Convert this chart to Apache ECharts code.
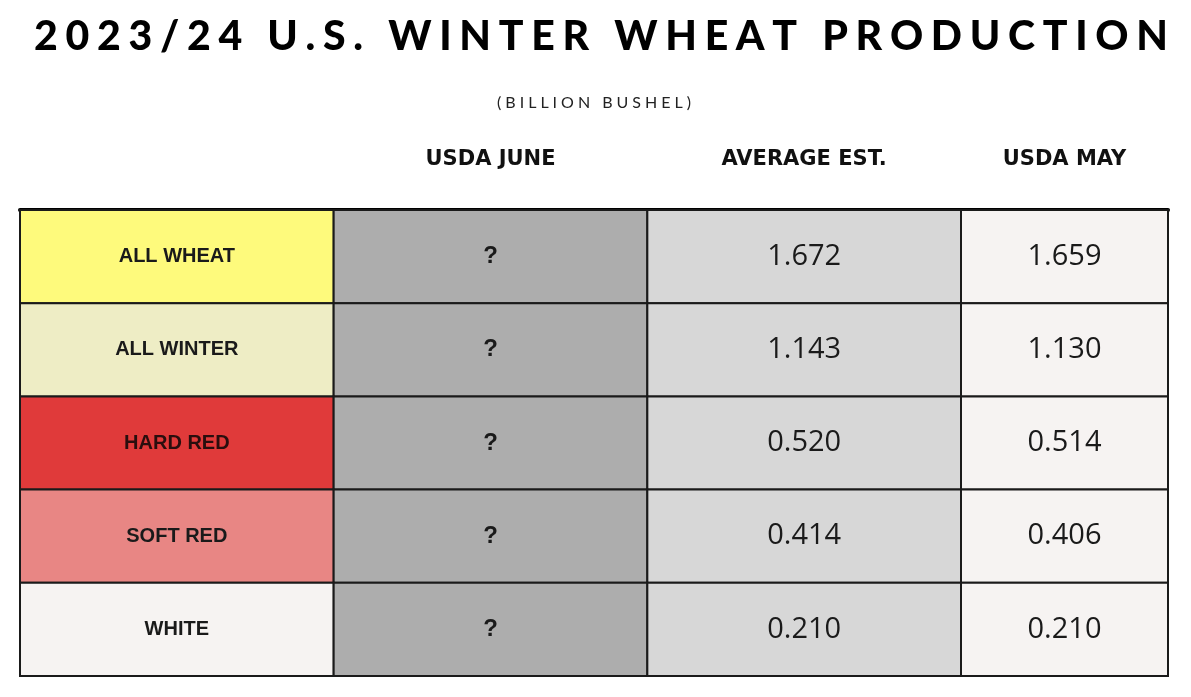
<!DOCTYPE html>
<html>
<head>
<meta charset="utf-8">
<script src="https://cdn.jsdelivr.net/npm/echarts@6/dist/echarts.min.js"></script>
<style>
  html, body { margin: 0; padding: 0; background: #ffffff; }
  #main { width: 1191px; height: 697px; }
</style>
</head>
<body>
<div id="main"></div>
<script>
// 表格数据
var titleText = '2023/24 U.S. WINTER WHEAT PRODUCTION';
var subText = '(BILLION BUSHEL)';
var categories = ['ALL WHEAT', 'ALL WINTER', 'HARD RED', 'SOFT RED', 'WHITE'];
var columns = ['', 'USDA JUNE', 'AVERAGE EST.', 'USDA MAY'];
var usdaJune = ['?', '?', '?', '?', '?'];
var averageEst = [1.672, 1.143, 0.520, 0.414, 0.210];
var usdaMay = [1.659, 1.130, 0.514, 0.406, 0.210];

// 颜色
var rowColors = ['#fefa7c', '#eeedc5', '#e03a3a', '#e88684', '#f6f3f2'];
var colColors = [null, '#adadad', '#d7d7d7', '#f6f3f2'];

function spaced(s, sp){
    return s.split('').join(sp);
}

// 取单元格文本，数值保留三位小数
function cellText(col, row){
    if(col == 0) return categories[row];
    if(col == 1) return usdaJune[row];
    if(col == 2) return averageEst[row].toFixed(3);
    return usdaMay[row].toFixed(3);
}

function draw_table(){
    var myChart = echarts.init(document.getElementById('main'));

    // 拼数据: [列, 行]
    var leftData = [], rightData = [];
    for(var i = 0; i < categories.length; i++){
        leftData.push([0, i]);
        leftData.push([1, i]);
        leftData.push([2, i]);
        rightData.push([0, i]);
    }

    function cell(offset){
        return function(params, api){
            var col = api.value(0) + offset;
            var row = api.value(1);
            var c = api.coord([api.value(0), row]);
            var s = api.size([1, 1]);
            var fill = col == 0 ? rowColors[row] : colColors[col];
            var font;
            if(col == 0){
                font = 'bold 20px "Liberation Sans", Arial, sans-serif';
            }else if(col == 1){
                font = 'bold 24px "Liberation Sans", Arial, sans-serif';
            }else{
                font = '29px "Open Sans", sans-serif';
            }
            return {
                type: 'rect',
                shape: { x: c[0] - s[0] / 2, y: c[1] - s[1] / 2, width: s[0], height: s[1] },
                style: { fill: fill, stroke: '#1a1a1a', lineWidth: 2 },
                textContent: {
                    style: {
                        text: cellText(col, row),
                        font: font,
                        fill: col == 0 && row == 2 ? '#2a0e0e' : '#1a1a1a'
                    }
                },
                textConfig: { position: 'inside' }
            };
        };
    }

    var axisTop = {
        type: 'category',
        position: 'top',
        axisTick: { show: false },
        axisLine: { show: true, lineStyle: { color: '#000', width: 4 } },
        axisLabel: {
            margin: 40,
            color: '#111',
            fontSize: 21,
            fontWeight: 'bold',
            fontFamily: 'DejaVu Sans'
        },
        splitLine: { show: false }
    };

    var option = {
        backgroundColor: '#ffffff',
        animation: false,
        title: [
            {
                text: spaced(titleText, '\u2009\u200A'),
                left: 596,
                textAlign: 'center',
                top: 11,
                textStyle: { fontSize: 41, fontWeight: 900, fontFamily: 'Lato', color: '#000' }
            },
            {
                text: spaced(subText, '\u2009\u2009'),
                left: 589,
                textAlign: 'center',
                top: 90,
                textStyle: { fontSize: 16, fontWeight: 'normal', fontFamily: 'Lato', color: '#222' }
            }
        ],
        grid: [
            { left: 20, top: 210, width: 941, height: 466 },
            { left: 961, top: 210, width: 207, height: 466 }
        ],
        xAxis: [
            Object.assign({ gridIndex: 0, data: columns.slice(0, 3) }, axisTop),
            Object.assign({ gridIndex: 1, data: columns.slice(3) }, axisTop)
        ],
        yAxis: [
            { type: 'category', gridIndex: 0, inverse: true, data: categories, show: false },
            { type: 'category', gridIndex: 1, inverse: true, data: categories, show: false }
        ],
        series: [
            {
                type: 'custom',
                xAxisIndex: 0, yAxisIndex: 0,
                renderItem: cell(0),
                data: leftData,
                z: 1
            },
            {
                type: 'custom',
                xAxisIndex: 1, yAxisIndex: 1,
                renderItem: cell(3),
                data: rightData,
                z: 1
            }
        ]
    };

    myChart.setOption(option);
}

draw_table();
</script>
</body>
</html>
